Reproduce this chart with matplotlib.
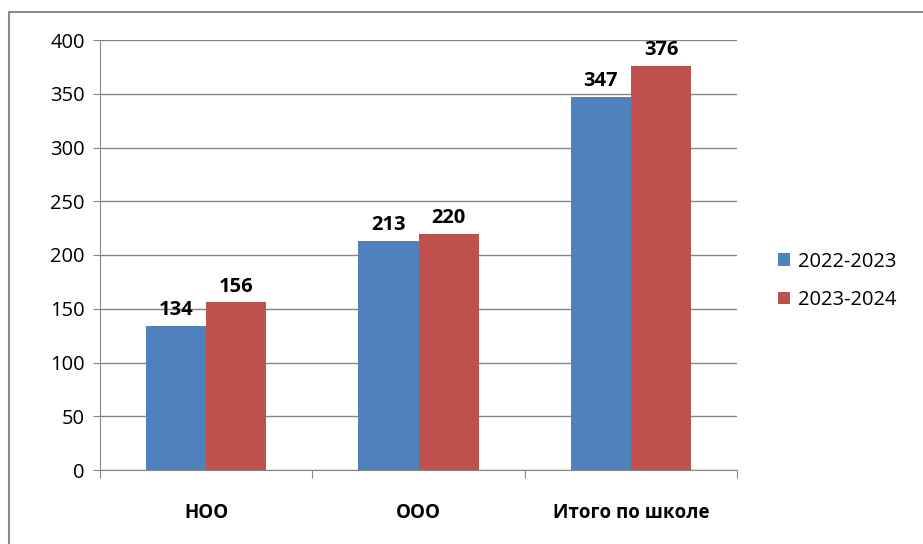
import numpy as np
import matplotlib.pyplot as plt
from matplotlib.patches import Rectangle

categories = ['НОО', 'ООО', 'Итого по школе']
years = ['2022-2023', '2023-2024']
values_2022 = [134, 213, 347]
values_2023 = [156, 220, 376]
colors = ['#4F81BD', '#C0504D']

plt.rcParams['font.family'] = ['Open Sans', 'DejaVu Sans']

fig = plt.figure(figsize=(9.23, 5.44), dpi=100)
ax = fig.add_axes([100 / 923, 1 - 470 / 544, 637 / 923, 430 / 544])

# outer chart border
fig.patches.append(Rectangle((9 / 923, -0.1), 1.2, 1 - 12 / 544 + 0.1,
                             transform=fig.transFigure, fill=False,
                             edgecolor='#8a8a8a', linewidth=1.5))

x = np.arange(len(categories))
w = 0.283
b1 = ax.bar(x - w / 2, values_2022, w, color=colors[0], label=years[0], zorder=3)
b2 = ax.bar(x + w / 2, values_2023, w, color=colors[1], label=years[1], zorder=3)

for bars in (b1, b2):
    for rect in bars:
        ax.annotate(f'{rect.get_height():.0f}',
                    (rect.get_x() + rect.get_width() / 2, rect.get_height()),
                    xytext=(0, 4), textcoords='offset points',
                    ha='center', va='bottom', fontsize=14.5, fontweight='bold')

ax.set_xlim(-0.5, len(categories) - 0.5)
ax.set_ylim(0, 400)
ax.set_yticks(range(0, 401, 50))
ax.tick_params(axis='y', labelsize=14.5, length=5, color='#868686', pad=6)
ax.grid(axis='y', color='#868686', linewidth=1, zorder=0)

# category labels between boundary ticks
ax.set_xticks(np.arange(-0.5, len(categories), 1))
ax.set_xticklabels([])
ax.tick_params(axis='x', length=6, color='#868686')
ax.set_xticks(x, minor=True)
ax.set_xticklabels(categories, minor=True, fontsize=13.5, fontweight='bold')
ax.tick_params(axis='x', which='minor', length=0, pad=24)

for s in ('top', 'right'):
    ax.spines[s].set_visible(False)
for s in ('left', 'bottom'):
    ax.spines[s].set_color('#868686')

leg = fig.legend(loc='center left', bbox_to_anchor=(760 / 923, 1 - 281 / 544),
                 frameon=False, fontsize=14.5, handlelength=0.6, handleheight=0.6,
                 handletextpad=0.4, labelspacing=0.9)

fig.savefig('out.png', dpi=100)
